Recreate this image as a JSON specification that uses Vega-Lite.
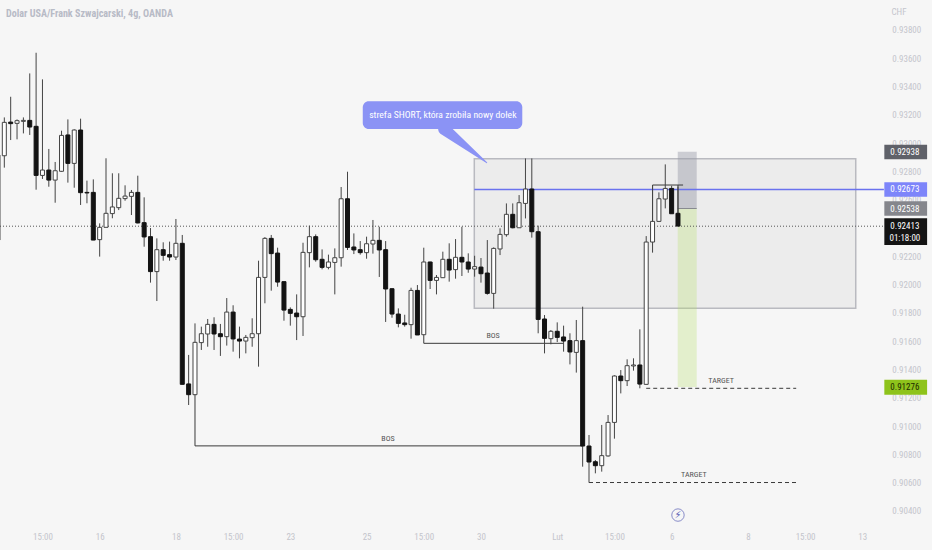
{"$schema":"https://vega.github.io/schema/vega-lite/v6.json","width":932,"height":550,"autosize":{"type":"none"},"padding":0,"background":"#f6f6f6","view":{"stroke":null},
"resolve":{"axis":{"x":"independent","y":"independent"}},
"datasets":{
"candles":[
{"i":-1,"o":0.92315,"h":0.92950,"l":0.92315,"c":0.92916},
{"i":0,"o":0.92911,"h":0.93182,"l":0.92827,"c":0.93147},
{"i":1,"o":0.93149,"h":0.93328,"l":0.93022,"c":0.93138},
{"i":2,"o":0.93140,"h":0.93168,"l":0.93027,"c":0.93159},
{"i":3,"o":0.93154,"h":0.93182,"l":0.93069,"c":0.93161},
{"i":4,"o":0.93161,"h":0.93493,"l":0.93058,"c":0.93114},
{"i":5,"o":0.93119,"h":0.93639,"l":0.92671,"c":0.92772},
{"i":6,"o":0.92772,"h":0.93451,"l":0.92747,"c":0.92810},
{"i":7,"o":0.92810,"h":0.92959,"l":0.92692,"c":0.92739},
{"i":8,"o":0.92739,"h":0.92867,"l":0.92579,"c":0.92805},
{"i":9,"o":0.92801,"h":0.93088,"l":0.92798,"c":0.93055},
{"i":10,"o":0.93058,"h":0.93168,"l":0.92721,"c":0.92857},
{"i":11,"o":0.92857,"h":0.93098,"l":0.92685,"c":0.93093},
{"i":12,"o":0.93093,"h":0.93173,"l":0.92563,"c":0.92650},
{"i":13,"o":0.92652,"h":0.92735,"l":0.92575,"c":0.92648},
{"i":14,"o":0.92652,"h":0.92744,"l":0.92315,"c":0.92315},
{"i":15,"o":0.92318,"h":0.92433,"l":0.92198,"c":0.92405},
{"i":16,"o":0.92405,"h":0.92893,"l":0.92405,"c":0.92504},
{"i":17,"o":0.92502,"h":0.92787,"l":0.92469,"c":0.92549},
{"i":18,"o":0.92544,"h":0.92787,"l":0.92527,"c":0.92610},
{"i":19,"o":0.92608,"h":0.92702,"l":0.92593,"c":0.92626},
{"i":20,"o":0.92624,"h":0.92669,"l":0.92492,"c":0.92652},
{"i":21,"o":0.92652,"h":0.92770,"l":0.92433,"c":0.92436},
{"i":22,"o":0.92438,"h":0.92617,"l":0.92268,"c":0.92337},
{"i":23,"o":0.92339,"h":0.92400,"l":0.92014,"c":0.92092},
{"i":24,"o":0.92092,"h":0.92327,"l":0.91884,"c":0.92247},
{"i":25,"o":0.92247,"h":0.92299,"l":0.92169,"c":0.92207},
{"i":26,"o":0.92212,"h":0.92304,"l":0.92169,"c":0.92195},
{"i":27,"o":0.92195,"h":0.92464,"l":0.92174,"c":0.92292},
{"i":28,"o":0.92292,"h":0.92351,"l":0.91295,"c":0.91295},
{"i":29,"o":0.91298,"h":0.91503,"l":0.91149,"c":0.91222},
{"i":30,"o":0.91222,"h":0.91726,"l":0.91222,"c":0.91592},
{"i":31,"o":0.91590,"h":0.91703,"l":0.91538,"c":0.91653},
{"i":32,"o":0.91651,"h":0.91757,"l":0.91561,"c":0.91719},
{"i":33,"o":0.91719,"h":0.91769,"l":0.91538,"c":0.91651},
{"i":34,"o":0.91653,"h":0.91722,"l":0.91496,"c":0.91632},
{"i":35,"o":0.91632,"h":0.91905,"l":0.91569,"c":0.91806},
{"i":36,"o":0.91806,"h":0.91854,"l":0.91526,"c":0.91616},
{"i":37,"o":0.91615,"h":0.91703,"l":0.91479,"c":0.91601},
{"i":38,"o":0.91601,"h":0.91644,"l":0.91514,"c":0.91627},
{"i":39,"o":0.91625,"h":0.91762,"l":0.91561,"c":0.91653},
{"i":40,"o":0.91653,"h":0.92169,"l":0.91420,"c":0.92051},
{"i":41,"o":0.92051,"h":0.92336,"l":0.91868,"c":0.92327},
{"i":42,"o":0.92327,"h":0.92351,"l":0.91957,"c":0.92219},
{"i":43,"o":0.92223,"h":0.92261,"l":0.91985,"c":0.92018},
{"i":44,"o":0.92021,"h":0.92021,"l":0.91745,"c":0.91820},
{"i":45,"o":0.91825,"h":0.91839,"l":0.91710,"c":0.91797},
{"i":46,"o":0.91799,"h":0.91931,"l":0.91608,"c":0.91773},
{"i":47,"o":0.91773,"h":0.92296,"l":0.91637,"c":0.92228},
{"i":48,"o":0.92226,"h":0.92417,"l":0.92122,"c":0.92339},
{"i":49,"o":0.92339,"h":0.92355,"l":0.92162,"c":0.92176},
{"i":50,"o":0.92179,"h":0.92249,"l":0.92108,"c":0.92122},
{"i":51,"o":0.92122,"h":0.92212,"l":0.92108,"c":0.92160},
{"i":52,"o":0.92157,"h":0.92256,"l":0.91931,"c":0.92190},
{"i":53,"o":0.92190,"h":0.92690,"l":0.92127,"c":0.92607},
{"i":54,"o":0.92607,"h":0.92798,"l":0.92245,"c":0.92263},
{"i":55,"o":0.92266,"h":0.92362,"l":0.92216,"c":0.92245},
{"i":56,"o":0.92247,"h":0.92308,"l":0.92212,"c":0.92226},
{"i":57,"o":0.92226,"h":0.92339,"l":0.92183,"c":0.92289},
{"i":58,"o":0.92287,"h":0.92457,"l":0.92219,"c":0.92313},
{"i":59,"o":0.92313,"h":0.92409,"l":0.92054,"c":0.92245},
{"i":60,"o":0.92247,"h":0.92308,"l":0.91736,"c":0.91969},
{"i":61,"o":0.91971,"h":0.91974,"l":0.91766,"c":0.91792},
{"i":62,"o":0.91792,"h":0.91832,"l":0.91698,"c":0.91726},
{"i":63,"o":0.91729,"h":0.91787,"l":0.91703,"c":0.91717},
{"i":64,"o":0.91717,"h":0.91978,"l":0.91618,"c":0.91959},
{"i":65,"o":0.91959,"h":0.91997,"l":0.91644,"c":0.91644},
{"i":66,"o":0.91646,"h":0.92261,"l":0.91646,"c":0.92160},
{"i":67,"o":0.92160,"h":0.92162,"l":0.91969,"c":0.92030},
{"i":68,"o":0.92030,"h":0.92068,"l":0.91931,"c":0.92051},
{"i":69,"o":0.92049,"h":0.92233,"l":0.92049,"c":0.92179},
{"i":70,"o":0.92179,"h":0.92292,"l":0.92021,"c":0.92103},
{"i":71,"o":0.92106,"h":0.92322,"l":0.92042,"c":0.92193},
{"i":72,"o":0.92193,"h":0.92409,"l":0.92061,"c":0.92160},
{"i":73,"o":0.92160,"h":0.92221,"l":0.92084,"c":0.92110},
{"i":74,"o":0.92110,"h":0.92204,"l":0.92056,"c":0.92127},
{"i":75,"o":0.92124,"h":0.92188,"l":0.92014,"c":0.92077},
{"i":76,"o":0.92082,"h":0.92315,"l":0.91929,"c":0.91938},
{"i":77,"o":0.91938,"h":0.92263,"l":0.91830,"c":0.92256},
{"i":78,"o":0.92252,"h":0.92398,"l":0.92209,"c":0.92355},
{"i":79,"o":0.92353,"h":0.92574,"l":0.92339,"c":0.92497},
{"i":80,"o":0.92497,"h":0.92574,"l":0.92398,"c":0.92402},
{"i":81,"o":0.92402,"h":0.92633,"l":0.92402,"c":0.92579},
{"i":82,"o":0.92574,"h":0.92892,"l":0.92468,"c":0.92676},
{"i":83,"o":0.92676,"h":0.92892,"l":0.92332,"c":0.92374},
{"i":84,"o":0.92374,"h":0.92417,"l":0.91656,"c":0.91754},
{"i":85,"o":0.91757,"h":0.91785,"l":0.91514,"c":0.91620},
{"i":86,"o":0.91618,"h":0.91679,"l":0.91578,"c":0.91670},
{"i":87,"o":0.91670,"h":0.91733,"l":0.91594,"c":0.91627},
{"i":88,"o":0.91630,"h":0.91710,"l":0.91526,"c":0.91601},
{"i":89,"o":0.91604,"h":0.91656,"l":0.91436,"c":0.91524},
{"i":90,"o":0.91521,"h":0.91750,"l":0.91378,"c":0.91604},
{"i":91,"o":0.91604,"h":0.91844,"l":0.90713,"c":0.90859},
{"i":92,"o":0.90859,"h":0.90937,"l":0.90600,"c":0.90746},
{"i":93,"o":0.90748,"h":0.90760,"l":0.90666,"c":0.90720},
{"i":94,"o":0.90720,"h":0.91008,"l":0.90678,"c":0.90791},
{"i":95,"o":0.90789,"h":0.91078,"l":0.90784,"c":0.91026},
{"i":96,"o":0.91026,"h":0.91359,"l":0.90911,"c":0.91354},
{"i":97,"o":0.91354,"h":0.91396,"l":0.91231,"c":0.91321},
{"i":98,"o":0.91321,"h":0.91472,"l":0.91283,"c":0.91427},
{"i":99,"o":0.91425,"h":0.91479,"l":0.91392,"c":0.91432},
{"i":100,"o":0.91432,"h":0.91684,"l":0.91267,"c":0.91297},
{"i":101,"o":0.91295,"h":0.92343,"l":0.91293,"c":0.92301},
{"i":102,"o":0.92301,"h":0.92702,"l":0.92226,"c":0.92447},
{"i":103,"o":0.92447,"h":0.92652,"l":0.92445,"c":0.92607},
{"i":104,"o":0.92605,"h":0.92850,"l":0.92539,"c":0.92680},
{"i":105,"o":0.92680,"h":0.92699,"l":0.92504,"c":0.92501},
{"i":106,"o":0.92504,"h":0.92692,"l":0.92414,"c":0.92414}
],
"zone":[{"a":73.95,"b":133.97,"p":0.92890,"q":0.91833}],
"posGrey":[{"a":105.96,"b":108.95,"p":0.92940,"q":0.92538}],
"posGreen":[{"a":105.96,"b":108.95,"p":0.92538,"q":0.91276}],
"posLine":[{"a":105.96,"b":108.95,"p":0.92538,"q":0.92538}],
"solid":[
{"a":30,"b":30,"p":0.91222,"q":0.90860},
{"a":30,"b":91,"p":0.90860,"q":0.90860},
{"a":66,"b":66,"p":0.91646,"q":0.91585},
{"a":66,"b":88,"p":0.91585,"q":0.91585},
{"a":102,"b":106.8,"p":0.92704,"q":0.92704},
{"a":102,"b":102,"p":0.92704,"q":0.92445},
{"a":106,"b":106,"p":0.92704,"q":0.92504}
],
"dashed":[
{"a":101,"b":124.6,"p":0.91267,"q":0.91267},
{"a":92,"b":125,"p":0.90601,"q":0.90601}
],
"blue":[{"a":73.95,"b":138.4,"p":0.92673,"q":0.92673}],
"dotted":[{"a":-0.68,"b":138.4,"p":0.92413,"q":0.92413}],
"notes":[
{"a":60.37,"p":0.90909,"t":"BOS"},
{"a":76.9,"p":0.91637,"t":"BOS"},
{"a":112.8,"p":0.91319,"t":"TARGET"},
{"a":108.5,"p":0.90654,"t":"TARGET"}
],
"callout":[{"a":56.4,"b":81.5,"p":0.93296,"q":0.93100}],
"pointer":[{"a":69.2,"p":0.93100,"s":12,"n":1},{"a":75.9,"p":0.92862,"s":0,"n":2}],
"calloutText":[{"a":69,"p":0.93199,"t":"strefa SHORT, która zrobiła nowy dołek"}],
"title":[{"a":0.26,"p":0.93910,"t":"Dolar USA/Frank Szwajcarski, 4g, OANDA"}],
"unit":[{"a":139.6,"p":0.93929,"t":"CHF"}],
"logo":[{"a":106,"p":0.90371,"t":"⚡"}],
"tags":[
{"k":"a","p":0.92989,"q":0.92886},
{"k":"b","p":0.92724,"q":0.92622},
{"k":"c","p":0.92589,"q":0.92486},
{"k":"d","p":0.92469,"q":0.92280},
{"k":"e","p":0.91327,"q":0.91222}
],
"tagText":[
{"k":"a","p":0.92938,"t":"0.92938"},
{"k":"b","p":0.92673,"t":"0.92673"},
{"k":"c","p":0.92538,"t":"0.92538"},
{"k":"d","p":0.92413,"t":"0.92413"},
{"k":"d","p":0.92330,"t":"01:18:00"},
{"k":"e","p":0.91276,"t":"0.91276"}
]
},
"layer":[
{"data":{"name":"zone"},"mark":{"type":"rect","fill":"#ececec","stroke":"#b9bac0","strokeWidth":1.5},
"encoding":{
"x":{"field":"a","type":"quantitative","scale":{"domain":[-0.681,145.97],"nice":false,"zero":false,"padding":0},
"axis":{"orient":"bottom","offset":-25,"title":null,"grid":false,"domain":false,"ticks":false,"labelPadding":7,"labelFont":"Roboto Condensed, DejaVu Sans Condensed, Roboto","labelFontSize":9,"labelColor":"#c4c5cc","labelOverlap":false,"labelFlush":false,"values":[6,15,27,36,45,57,66,75,87,96,105,117,126,135],"labelExpr":"({6:'15:00',15:'16',27:'18',36:'15:00',45:'23',57:'25',66:'15:00',75:'30',87:'Lut',96:'15:00',105:'6',117:'8',126:'15:00',135:'13'})[datum.value]"}},
"x2":{"field":"b"},
"y":{"field":"p","type":"quantitative","scale":{"domain":[0.90124,0.94012],"nice":false,"zero":false},
"axis":{"orient":"right","offset":-49,"title":null,"grid":false,"domain":false,"ticks":false,"labelPadding":8.7,"labelFont":"Roboto Condensed, DejaVu Sans Condensed, Roboto","labelFontSize":9,"labelColor":"#c4c5cc","labelOverlap":false,"labelFlush":false,"format":".5f","values":[0.904,0.906,0.908,0.91,0.912,0.914,0.916,0.918,0.92,0.922,0.926,0.928,0.93,0.932,0.934,0.936,0.938]}},
"y2":{"field":"q"}}},
{"data":{"name":"posGrey"},"mark":{"type":"rect","fill":"#9a9ca8","fillOpacity":0.45},
"encoding":{"x":{"field":"a","type":"quantitative","axis":null},"x2":{"field":"b"},"y":{"field":"p","type":"quantitative","axis":null},"y2":{"field":"q"}}},
{"data":{"name":"posGreen"},"mark":{"type":"rect","fill":"#b5dd6a","fillOpacity":0.3},
"encoding":{"x":{"field":"a","type":"quantitative","axis":null},"x2":{"field":"b"},"y":{"field":"p","type":"quantitative","axis":null},"y2":{"field":"q"}}},
{"data":{"name":"posLine"},"mark":{"type":"rule","stroke":"#888a90","strokeWidth":1},
"encoding":{"x":{"field":"a","type":"quantitative","axis":null},"x2":{"field":"b"},"y":{"field":"p","type":"quantitative","axis":null},"y2":{"field":"q"}}},
{"data":{"name":"dotted"},"mark":{"type":"rule","stroke":"#555","strokeWidth":1,"strokeDash":[1,2]},
"encoding":{"x":{"field":"a","type":"quantitative","axis":null},"x2":{"field":"b"},"y":{"field":"p","type":"quantitative","axis":null},"y2":{"field":"q"}}},
{"data":{"name":"blue"},"mark":{"type":"rule","stroke":"#6a72ee","strokeWidth":1.5},
"encoding":{"x":{"field":"a","type":"quantitative","axis":null},"x2":{"field":"b"},"y":{"field":"p","type":"quantitative","axis":null},"y2":{"field":"q"}}},
{"data":{"name":"solid"},"mark":{"type":"rule","stroke":"#3a3a3a","strokeWidth":1},
"encoding":{"x":{"field":"a","type":"quantitative","axis":null},"x2":{"field":"b"},"y":{"field":"p","type":"quantitative","axis":null},"y2":{"field":"q"}}},
{"data":{"name":"dashed"},"mark":{"type":"rule","stroke":"#3a3a3a","strokeWidth":1,"strokeDash":[4,3]},
"encoding":{"x":{"field":"a","type":"quantitative","axis":null},"x2":{"field":"b"},"y":{"field":"p","type":"quantitative","axis":null},"y2":{"field":"q"}}},
{"data":{"name":"candles"},"mark":{"type":"rule","stroke":"#444","strokeWidth":1},
"encoding":{"x":{"field":"i","type":"quantitative","axis":null},"y":{"field":"l","type":"quantitative","axis":null},"y2":{"field":"h"}}},
{"data":{"name":"candles"},"mark":{"type":"bar","size":4,"strokeWidth":1,"stroke":"#333"},
"encoding":{"x":{"field":"i","type":"quantitative","axis":null},"y":{"field":"o","type":"quantitative","axis":null},"y2":{"field":"c"},
"fill":{"condition":{"test":"datum.c>=datum.o","value":"#ffffff"},"value":"#131313"},
"stroke":{"condition":{"test":"datum.c>=datum.o","value":"#444444"},"value":"#131313"}}},
{"data":{"name":"notes"},"mark":{"type":"text","font":"Roboto Condensed, DejaVu Sans Condensed, Roboto","fontSize":8,"fill":"#555"},
"encoding":{"x":{"field":"a","type":"quantitative","axis":null},"y":{"field":"p","type":"quantitative","axis":null},"text":{"field":"t"}}},
{"data":{"name":"pointer"},"mark":{"type":"trail","fill":"#8b93f5"},
"encoding":{"x":{"field":"a","type":"quantitative","axis":null},"y":{"field":"p","type":"quantitative","axis":null},"order":{"field":"n"},"size":{"field":"s","type":"quantitative","scale":null,"legend":null}}},
{"data":{"name":"callout"},"mark":{"type":"rect","fill":"#8b93f5","cornerRadius":6},
"encoding":{"x":{"field":"a","type":"quantitative","axis":null},"x2":{"field":"b"},"y":{"field":"p","type":"quantitative","axis":null},"y2":{"field":"q"}}},
{"data":{"name":"calloutText"},"mark":{"type":"text","font":"Roboto Condensed, DejaVu Sans Condensed, Roboto","fontSize":9.7,"fill":"#ffffff"},
"encoding":{"x":{"field":"a","type":"quantitative","axis":null},"y":{"field":"p","type":"quantitative","axis":null},"text":{"field":"t"}}},
{"data":{"name":"title"},"mark":{"type":"text","align":"left","font":"Roboto Condensed, DejaVu Sans Condensed, Roboto","fontSize":10.1,"fontWeight":"bold","fill":"#b8bbc6"},
"encoding":{"x":{"field":"a","type":"quantitative","axis":null},"y":{"field":"p","type":"quantitative","axis":null},"text":{"field":"t"}}},
{"data":{"name":"unit"},"mark":{"type":"text","align":"left","font":"Roboto Condensed, DejaVu Sans Condensed, Roboto","fontSize":9,"fill":"#c4c5cc"},
"encoding":{"x":{"field":"a","type":"quantitative","axis":null},"y":{"field":"p","type":"quantitative","axis":null},"text":{"field":"t"}}},
{"data":{"name":"logo"},"mark":{"type":"point","shape":"circle","size":154,"fill":null,"stroke":"#5a5fb5","strokeWidth":1},
"encoding":{"x":{"field":"a","type":"quantitative","axis":null},"y":{"field":"p","type":"quantitative","axis":null}}},
{"data":{"name":"logo"},"mark":{"type":"text","font":"DejaVu Sans","fontSize":10,"fill":"#5a5fb5"},
"encoding":{"x":{"field":"a","type":"quantitative","axis":null},"y":{"field":"p","type":"quantitative","axis":null},"text":{"field":"t"}}},
{"data":{"name":"tags"},"mark":{"type":"rect"},
"encoding":{"x":{"datum":138.47,"type":"quantitative","axis":null},"x2":{"datum":145.2},"y":{"field":"p","type":"quantitative","axis":null},"y2":{"field":"q"},
"fill":{"field":"k","type":"nominal","legend":null,"scale":{"domain":["a","b","c","d","e"],"range":["#5f6169","#7d85fa","#85868c","#141414","#8ec31b"]}}}},
{"data":{"name":"tagText"},"mark":{"type":"text","font":"Roboto Condensed, DejaVu Sans Condensed, Roboto","fontSize":9},
"encoding":{"x":{"datum":141.7,"type":"quantitative","axis":null},"y":{"field":"p","type":"quantitative","axis":null},"text":{"field":"t"},
"fill":{"condition":{"test":"datum.k=='e'","value":"#1d2b00"},"value":"#ffffff"}}}
]}
